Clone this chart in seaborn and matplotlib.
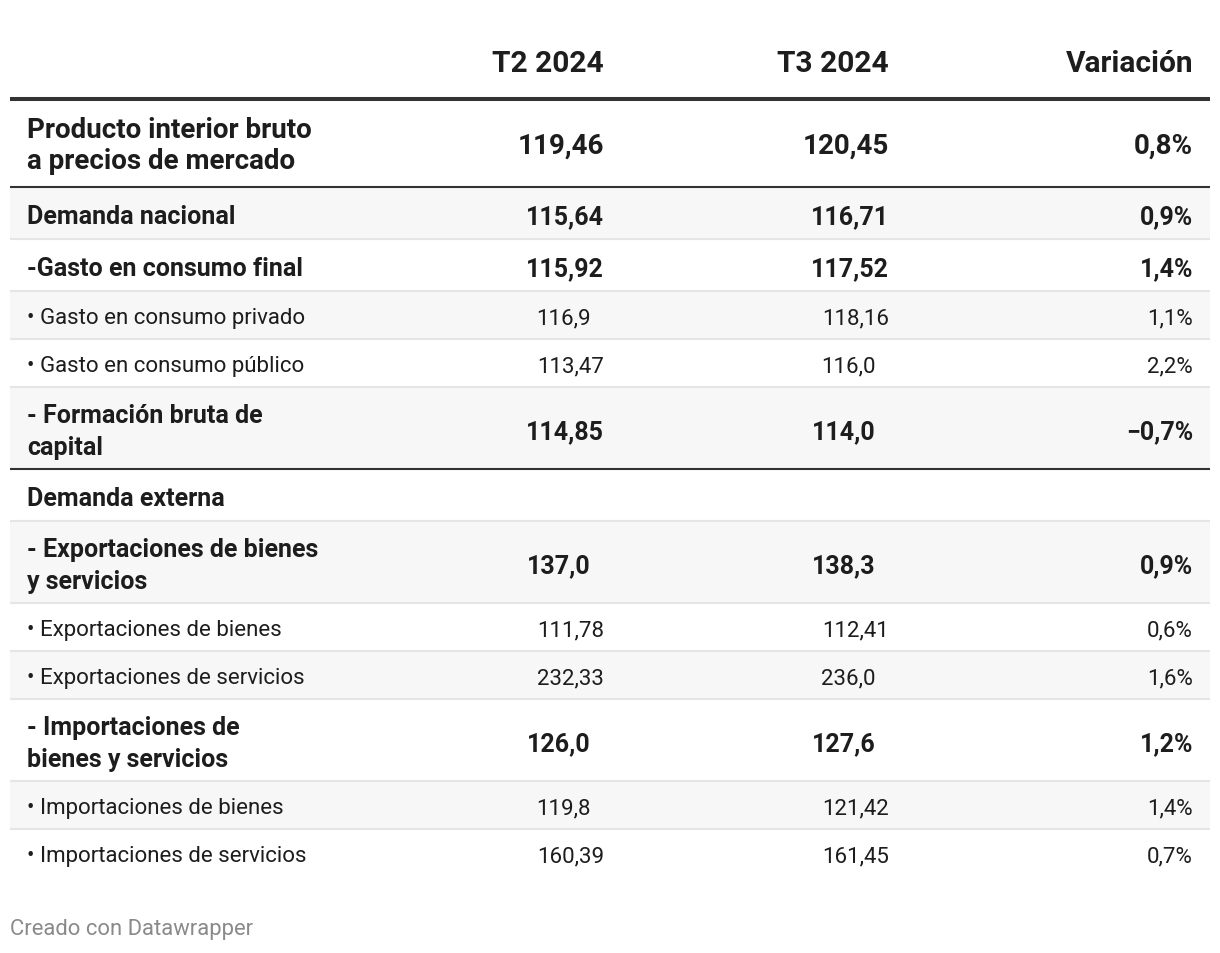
import matplotlib
matplotlib.use("Agg")
import matplotlib.pyplot as plt
import seaborn as sns

# table data
headers = ["T2 2024", "T3 2024", "Variación"]
labels = [
    "Producto interior bruto\na precios de mercado",
    "Demanda nacional",
    "-Gasto en consumo final",
    "• Gasto en consumo privado",
    "• Gasto en consumo público",
    "- Formación bruta de\ncapital",
    "Demanda externa",
    "- Exportaciones de bienes\ny servicios",
    "• Exportaciones de bienes",
    "• Exportaciones de servicios",
    "- Importaciones de\nbienes y servicios",
    "• Importaciones de bienes",
    "• Importaciones de servicios",
]
t2 = ["119,46", "115,64", "115,92", "116,9", "113,47", "114,85", "",
      "137,0", "111,78", "232,33", "126,0", "119,8", "160,39"]
t3 = ["120,45", "116,71", "117,52", "118,16", "116,0", "114,0", "",
      "138,3", "112,41", "236,0", "127,6", "121,42", "161,45"]
variacion = ["0,8%", "0,9%", "1,4%", "1,1%", "2,2%", "−0,7%", "",
             "0,9%", "0,6%", "1,6%", "1,2%", "1,4%", "0,7%"]
bold = [True, True, True, False, False, True, True,
        True, False, False, True, False, False]

sns.set_theme(style="white")
plt.rcParams["font.family"] = ["Roboto", "DejaVu Sans"]

fig = plt.figure(figsize=(12.2, 9.54), dpi=100)
ax = fig.add_axes([0, 0, 1, 1])
ax.set_xlim(0, 1220)
ax.set_ylim(954, 0)
ax.axis("off")

TXT = "#1d1d1d"
X0, X1 = 10, 1210
col_right = [604, 889, 1193]
xl = X0 / 1220
xr = X1 / 1220

# header
for h, xr_ in zip(headers, col_right):
    ax.text(xr_, 64, h, ha="right", va="center", fontsize=21.5,
            fontweight="bold", color=TXT)
ax.plot([X0, X1], [100, 100], color="#333333", lw=2.9, solid_capstyle="butt")

# rows
y = 102
for i, lab in enumerate(labels):
    nlines = lab.count("\n") + 1
    if i == 0:
        h = 86
    elif nlines == 2:
        h = 82
    elif bold[i]:
        h = 52
    else:
        h = 48
    top, bot = y, y + h
    if i % 2 == 1:
        ax.axhspan(top, bot, xmin=xl, xmax=xr, color="#f7f7f7", lw=0, zorder=0)
    if i == 0:
        fs, ls, cy = 20, 1.2, (top + bot) / 2 + 1
    elif bold[i]:
        fs, ls, cy = 18, 1.38, (top + bot) / 2 + 3
    else:
        fs, ls, cy = 16, 1.2, (top + bot) / 2 + 2.5
    fw = "bold" if bold[i] else "normal"
    ax.text(27, cy, lab, ha="left", va="center", fontsize=fs, fontweight=fw,
            color=TXT, linespacing=ls)
    for j, val in enumerate([t2[i], t3[i], variacion[i]]):
        if not val:
            continue
        xpos = col_right[j]
        # one-decimal figures sit one digit further left
        if j < 2 and len(val.split(",")[1]) == 1:
            xpos -= 13
        ax.text(xpos, cy, val, ha="right", va="center", fontsize=fs,
                fontweight=fw, color=TXT)
    # separator under row
    if i < len(labels) - 1:
        col = "#333333" if i in (0, 5) else "#e5e5e5"
        ax.plot([X0, X1], [bot, bot], color=col, lw=1.5, solid_capstyle="butt")
    y = bot

ax.text(10, 930, "Creado con Datawrapper", ha="left", va="center",
        fontsize=15.8, color="#8a8a8a")

fig.savefig("out.png", dpi=100, facecolor="white")
